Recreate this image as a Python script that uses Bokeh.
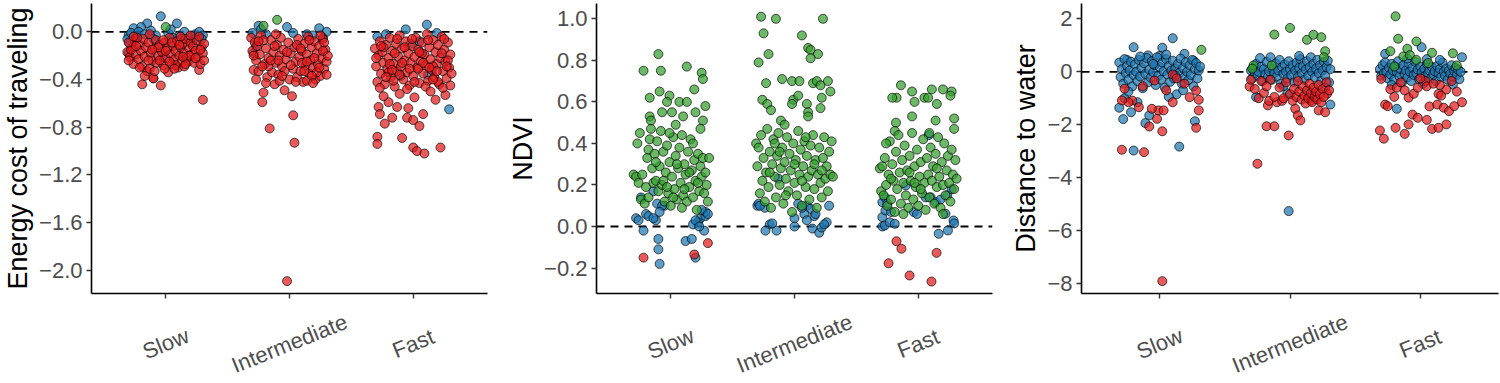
from bokeh.plotting import figure
from bokeh.layouts import row, column
from bokeh.models import Span, FixedTicker, CustomJSTickFormatter
from bokeh.core.properties import value
from bokeh.embed import file_html
from bokeh.resources import INLINE

categories = ["Slow", "Intermediate", "Fast"]

# each observation: (jitter offset within category, value)
# ---------------- Energy cost of traveling ----------------
energy_slow_blue = [(-0.04,0.13),(0.09,0.07),(-0.15,0.07),(-0.20,0.04),(-0.26,0.03),(-0.30,-0.03),(-0.31,-0.06),(-0.28,-0.01),(-0.22,0.00),(-0.17,-0.02),(-0.12,0.01),(-0.08,-0.03),(0.02,-0.01),(0.06,-0.05),(0.11,-0.03),(0.15,0.00),(0.20,-0.05),(0.24,-0.02),(0.27,0.00),(0.30,-0.03),(0.29,-0.06),(-0.29,-0.10),(-0.30,-0.18),(-0.02,-0.20),(0.13,-0.06),(0.22,-0.07),(-0.10,-0.06),(0.04,0.02),(-0.24,-0.05)]
energy_slow_green = [(0.00,0.04)]
energy_slow_red = [(-0.31,-0.17),(-0.29,-0.21),(-0.27,-0.13),(-0.26,-0.27),(-0.25,-0.08),(-0.24,-0.19),(-0.22,-0.23),(-0.21,-0.11),(-0.20,-0.16),(-0.19,-0.29),(-0.18,-0.06),(-0.17,-0.21),(-0.16,-0.13),(-0.15,-0.33),(-0.14,-0.09),(-0.13,-0.31),(-0.12,-0.18),(-0.11,-0.24),(-0.10,-0.39),(-0.09,-0.14),(-0.08,-0.07),(-0.07,-0.26),(-0.06,-0.20),(-0.05,-0.11),(-0.04,-0.45),(-0.03,-0.17),(-0.02,-0.28),(-0.01,-0.09),(0.00,-0.22),(0.01,-0.14),(0.02,-0.34),(0.03,-0.05),(0.04,-0.19),(0.05,-0.27),(0.06,-0.12),(0.07,-0.23),(0.08,-0.16),(0.09,-0.08),(0.10,-0.30),(0.11,-0.20),(0.12,-0.13),(0.13,-0.25),(0.14,-0.10),(0.15,-0.18),(0.16,-0.06),(0.17,-0.22),(0.18,-0.25),(0.19,-0.14),(0.20,-0.09),(0.21,-0.19),(0.22,-0.12),(0.23,-0.26),(0.24,-0.16),(0.25,-0.07),(0.26,-0.21),(0.27,-0.32),(0.28,-0.27),(0.29,-0.13),(0.30,-0.18),(0.31,-0.10),(0.30,-0.57),(-0.19,-0.44),(-0.10,-0.39),(-0.28,-0.15),(-0.23,-0.05),(0.12,-0.04),(-0.06,-0.13),(0.05,-0.09),(0.19,-0.20),(-0.14,-0.24),(0.27,-0.04),(-0.30,-0.09),(0.08,-0.28),(-0.01,-0.31),(0.15,-0.29),(-0.30,-0.24),(-0.26,-0.04),(-0.21,-0.30),(-0.17,-0.37),(-0.13,-0.02),(-0.09,-0.33),(-0.05,-0.24),(-0.02,-0.07),(0.03,-0.25),(0.07,-0.31),(0.11,-0.11),(0.16,-0.27),(0.20,-0.03),(0.24,-0.22),(0.28,-0.15),(0.31,-0.24),(-0.24,-0.12),(0.00,-0.16),(0.14,-0.21),(-0.11,-0.15)]
energy_mid_blue = [(-0.25,0.05),(-0.02,0.04),(0.24,0.03),(0.30,0.00),(0.14,-0.02),(0.03,-0.01),(-0.29,-0.18),(-0.30,-0.01),(-0.19,-0.02),(-0.27,-0.12),(0.27,-0.05),(-0.23,0.02),(0.19,-0.03)]
energy_mid_green = [(-0.10,0.10),(-0.21,0.05)]
energy_mid_red = [(-0.31,-0.05),(-0.30,-0.16),(-0.29,-0.32),(-0.28,-0.09),(-0.27,-0.24),(-0.26,-0.12),(-0.25,-0.33),(-0.24,-0.19),(-0.23,-0.03),(-0.22,-0.59),(-0.21,-0.51),(-0.20,-0.27),(-0.19,-0.14),(-0.18,-0.38),(-0.17,-0.22),(-0.16,-0.81),(-0.15,-0.07),(-0.14,-0.34),(-0.13,-0.17),(-0.12,-0.44),(-0.11,-0.26),(-0.10,-0.11),(-0.09,-0.36),(-0.08,-0.20),(-0.07,-0.05),(-0.06,-0.29),(-0.05,-0.15),(-0.04,-0.49),(-0.03,-0.23),(-0.02,-2.09),(-0.01,-0.09),(0.00,-0.40),(0.01,-0.18),(0.02,-0.54),(0.03,-0.31),(0.03,-0.70),(0.04,-0.93),(0.04,-0.13),(0.05,-0.25),(0.06,-0.38),(0.07,-0.06),(0.08,-0.21),(0.09,-0.33),(0.10,-0.16),(0.11,-0.42),(0.12,-0.10),(0.13,-0.28),(0.14,-0.19),(0.15,-0.04),(0.16,-0.35),(0.17,-0.24),(0.18,-0.13),(0.19,-0.30),(0.20,-0.08),(0.21,-0.40),(0.22,-0.18),(0.23,-0.27),(0.24,-0.12),(0.25,-0.37),(0.26,-0.22),(0.27,-0.06),(0.28,-0.31),(0.29,-0.15),(0.30,-0.25),(0.31,-0.20),(-0.27,-0.40),(-0.21,-0.07),(-0.11,-0.02),(-0.04,-0.33),(0.06,-0.11),(0.14,-0.41),(0.22,-0.34),(0.28,-0.09),(-0.17,-0.29),(-0.08,-0.41),(0.10,-0.26),(0.18,-0.37),(0.25,-0.03),(-0.29,-0.20),(-0.25,-0.08),(-0.22,-0.29),(-0.19,-0.43),(-0.15,-0.24),(-0.12,-0.12),(-0.06,-0.37),(-0.02,-0.17),(0.01,-0.28),(0.05,-0.42),(0.09,-0.14),(0.12,-0.33),(0.16,-0.07),(0.20,-0.22),(0.24,-0.30),(0.27,-0.16),(0.30,-0.36),(-0.09,-0.24),(0.14,-0.25),(0.19,-0.43)]
energy_fast_blue = [(-0.06,0.02),(0.11,0.06),(0.19,-0.01),(-0.29,-0.04),(-0.02,-0.10),(-0.10,-0.37),(0.12,-0.36),(0.29,-0.65),(0.05,-0.08),(-0.22,-0.02)]
energy_fast_red = [(-0.31,-0.14),(-0.30,-0.29),(-0.29,-0.42),(-0.28,-0.20),(-0.27,-0.08),(-0.26,-0.35),(-0.25,-0.17),(-0.24,-0.26),(-0.23,-0.44),(-0.22,-0.11),(-0.21,-0.31),(-0.20,-0.22),(-0.19,-0.05),(-0.18,-0.38),(-0.17,-0.16),(-0.16,-0.27),(-0.15,-0.46),(-0.14,-0.10),(-0.13,-0.33),(-0.12,-0.21),(-0.11,-0.03),(-0.10,-0.29),(-0.09,-0.14),(-0.08,-0.40),(-0.07,-0.24),(-0.06,-0.08),(-0.05,-0.34),(-0.04,-0.18),(-0.03,-0.45),(-0.02,-0.26),(-0.01,-0.12),(0.00,-0.37),(0.01,-0.21),(0.02,-0.05),(0.03,-0.30),(0.04,-0.15),(0.05,-0.43),(0.06,-0.25),(0.07,-0.09),(0.08,-0.35),(0.09,-0.19),(0.10,-0.28),(0.11,-0.02),(0.12,-0.41),(0.13,-0.13),(0.14,-0.23),(0.15,-0.32),(0.16,-0.07),(0.17,-0.38),(0.18,-0.17),(0.19,-0.27),(0.20,-0.11),(0.21,-0.44),(0.22,-0.22),(0.23,-0.04),(0.24,-0.33),(0.25,-0.15),(0.26,-0.25),(0.27,-0.39),(0.28,-0.09),(0.29,-0.30),(0.30,-0.19),(0.31,-0.35),(-0.27,-0.47),(-0.16,-0.41),(-0.05,-0.48),(0.10,-0.46),(0.20,-0.42),(0.28,-0.24),(-0.20,-0.34),(-0.09,-0.26),(0.04,-0.31),(0.16,-0.29),(-0.24,-0.13),(0.25,-0.06),(0.07,-0.18),(-0.13,-0.06),(-0.28,-0.63),(-0.27,-0.69),(-0.20,-0.59),(-0.13,-0.63),(-0.04,-0.64),(-0.23,-0.77),(-0.17,-0.72),(-0.05,-0.72),(0.00,-0.74),(0.05,-0.79),(0.08,-0.69),(-0.29,-0.88),(-0.29,-0.94),(-0.09,-0.89),(0.00,-0.97),(0.03,-1.00),(0.09,-1.02),(0.22,-0.97),(0.26,-0.53),(0.18,-0.57),(0.14,-0.50),(0.01,-0.55),(0.24,-0.47),(-0.11,-0.52),(-0.24,-0.54),(-0.30,-0.22),(-0.26,-0.12),(-0.22,-0.38),(-0.19,-0.27),(-0.15,-0.18),(-0.11,-0.36),(-0.07,-0.13),(-0.03,-0.31),(0.01,-0.42),(0.05,-0.17),(0.08,-0.26),(0.12,-0.07),(0.16,-0.40),(0.19,-0.33),(0.23,-0.18),(0.27,-0.29),(0.30,-0.45),(-0.01,-0.06),(0.13,-0.30),(-0.17,-0.32)]

# ---------------- NDVI ----------------
ndvi_slow_blue = [(-0.24,0.14),(-0.14,0.17),(-0.11,0.11),(-0.05,0.10),(-0.07,0.10),(-0.20,0.06),(-0.28,0.04),(-0.26,0.03),(-0.22,-0.02),(-0.18,0.05),(-0.12,0.03),(-0.09,0.07),(-0.10,-0.06),(-0.10,-0.11),(-0.09,-0.18),(0.12,-0.07),(0.17,-0.06),(0.20,-0.15),(0.24,0.04),(0.28,0.05),(0.28,0.07),(0.27,-0.02),(0.22,0.02),(0.18,0.01),(0.20,0.03),(0.25,0.08),(0.30,0.06),(0.23,0.00),(-0.14,0.04)]
ndvi_slow_green = [(-0.10,0.83),(-0.22,0.75),(-0.08,0.75),(0.13,0.77),(0.25,0.74),(0.26,0.71),(-0.17,0.62),(-0.09,0.65),(-0.01,0.63),(-0.03,0.60),(0.07,0.60),(0.13,0.60),(0.28,0.58),(-0.07,0.55),(0.01,0.55),(-0.17,0.53),(-0.16,0.51),(0.26,0.51),(-0.25,0.45),(-0.27,0.40),(0.19,0.66),(0.20,0.55),(0.24,0.47),(0.10,0.53),(0.04,0.49),(-0.30,0.25),(-0.28,0.24),(-0.26,0.21),(-0.24,0.13),(-0.23,0.25),(-0.21,0.11),(-0.20,0.19),(-0.19,0.33),(-0.18,0.37),(-0.17,0.42),(-0.16,0.47),(-0.15,0.28),(-0.14,0.21),(-0.13,0.35),(-0.12,0.22),(-0.11,0.41),(-0.10,0.17),(-0.09,0.29),(-0.08,0.46),(-0.07,0.20),(-0.06,0.36),(-0.05,0.12),(-0.04,0.26),(-0.03,0.39),(-0.02,0.16),(-0.01,0.31),(0.00,0.10),(0.01,0.24),(0.02,0.43),(0.03,0.18),(0.04,0.34),(0.05,0.13),(0.06,0.28),(0.07,0.38),(0.08,0.21),(0.09,0.44),(0.10,0.15),(0.11,0.30),(0.12,0.25),(0.13,0.12),(0.14,0.36),(0.15,0.19),(0.16,0.42),(0.17,0.27),(0.18,0.14),(0.19,0.32),(0.20,0.22),(0.21,0.08),(0.22,0.35),(0.23,0.17),(0.24,0.29),(0.25,0.24),(0.26,0.33),(0.27,0.16),(0.28,0.26),(0.29,0.20),(0.30,0.12),(0.31,0.33),(-0.06,0.22),(0.05,0.30),(0.11,0.18),(-0.12,0.31),(0.15,0.26),(0.02,0.14),(-0.03,0.19),(0.18,0.40),(0.09,0.09),(-0.01,0.45),(0.22,0.21),(-0.18,0.14)]
ndvi_slow_red = [(-0.22,-0.15),(0.19,-0.135),(0.30,-0.08)]
ndvi_mid_blue = [(-0.13,0.23),(-0.30,0.10),(-0.29,0.11),(-0.24,0.09),(-0.28,0.10),(0.03,0.11),(0.10,0.10),(0.13,0.085),(0.08,0.06),(0.16,0.05),(0.28,0.10),(-0.20,0.01),(-0.235,-0.02),(-0.145,-0.02),(-0.18,0.015),(0.00,0.04),(0.00,0.00),(0.10,0.03),(0.145,-0.01),(0.20,-0.03),(0.22,-0.005),(0.26,0.02),(0.24,0.01),(0.06,0.09),(0.17,0.06)]
ndvi_mid_green = [(-0.27,1.01),(-0.15,1.00),(0.23,1.00),(-0.25,0.93),(0.06,0.92),(0.11,0.86),(0.13,0.85),(0.19,0.83),(-0.21,0.83),(0.13,0.81),(-0.29,0.79),(-0.23,0.69),(-0.10,0.71),(-0.02,0.70),(0.04,0.70),(0.15,0.69),(0.18,0.70),(0.21,0.68),(0.27,0.70),(0.29,0.65),(0.22,0.62),(0.21,0.57),(0.10,0.59),(0.11,0.55),(0.11,0.53),(-0.26,0.61),(-0.22,0.59),(-0.19,0.56),(-0.11,0.51),(-0.08,0.49),(-0.01,0.61),(-0.02,0.59),(0.03,0.63),(-0.31,0.40),(-0.30,0.29),(-0.29,0.38),(-0.28,0.16),(-0.27,0.44),(-0.26,0.22),(-0.25,0.33),(-0.24,0.12),(-0.23,0.26),(-0.22,0.47),(-0.21,0.19),(-0.20,0.36),(-0.19,0.09),(-0.18,0.30),(-0.17,0.42),(-0.16,0.24),(-0.15,0.14),(-0.14,0.34),(-0.13,0.45),(-0.12,0.20),(-0.11,0.28),(-0.10,0.38),(-0.09,0.11),(-0.08,0.31),(-0.07,0.23),(-0.06,0.43),(-0.05,0.17),(-0.04,0.35),(-0.03,0.27),(-0.02,0.07),(-0.01,0.40),(0.00,0.21),(0.01,0.32),(0.02,0.15),(0.03,0.46),(0.04,0.25),(0.05,0.37),(0.06,0.10),(0.07,0.29),(0.08,0.41),(0.09,0.19),(0.10,0.34),(0.11,0.24),(0.12,0.13),(0.13,0.39),(0.14,0.27),(0.15,0.44),(0.16,0.18),(0.17,0.32),(0.18,0.09),(0.19,0.25),(0.20,0.38),(0.21,0.21),(0.22,0.14),(0.23,0.33),(0.24,0.43),(0.25,0.23),(0.26,0.29),(0.27,0.17),(0.28,0.36),(0.29,0.25),(0.30,0.41),(0.31,0.24),(-0.12,0.36),(0.06,0.22),(0.16,0.30),(-0.20,0.26),(0.00,0.30),(0.22,0.27),(-0.07,0.15),(0.09,0.43),(-0.16,0.40)]
ndvi_fast_blue = [(-0.29,0.045),(-0.29,0.00),(-0.27,0.005),(-0.265,0.077),(-0.23,0.02),(-0.19,0.013),(-0.29,0.117),(-0.27,0.14),(-0.10,0.198),(-0.035,0.069),(-0.01,0.06),(0.10,0.141),(0.14,0.117),(0.18,0.13),(0.235,0.15),(0.22,0.061),(0.285,0.029),(0.29,0.015),(0.24,-0.019),(0.165,-0.035),(0.085,0.44),(0.27,0.18),(0.06,0.14),(-0.22,0.07),(-0.25,0.11)]
ndvi_fast_green = [(-0.14,0.68),(-0.175,0.62),(-0.05,0.65),(-0.03,0.60),(0.11,0.66),(0.05,0.62),(0.20,0.66),(0.27,0.65),(0.26,0.63),(0.15,0.59),(0.08,0.62),(-0.21,0.62),(-0.05,0.53),(0.14,0.51),(0.29,0.52),(0.29,0.47),(-0.18,0.50),(-0.19,0.46),(-0.31,0.28),(-0.30,0.17),(-0.29,0.29),(-0.28,0.15),(-0.27,0.33),(-0.26,0.20),(-0.25,0.10),(-0.24,0.25),(-0.23,0.41),(-0.22,0.13),(-0.21,0.30),(-0.20,0.22),(-0.19,0.07),(-0.18,0.36),(-0.17,0.18),(-0.16,0.44),(-0.15,0.26),(-0.14,0.11),(-0.13,0.32),(-0.12,0.21),(-0.11,0.39),(-0.10,0.15),(-0.09,0.27),(-0.08,0.09),(-0.07,0.34),(-0.06,0.22),(-0.05,0.45),(-0.04,0.13),(-0.03,0.29),(-0.02,0.19),(-0.01,0.37),(0.00,0.10),(0.01,0.24),(0.02,0.31),(0.03,0.16),(0.04,0.42),(0.05,0.21),(0.06,0.08),(0.07,0.33),(0.08,0.25),(0.09,0.14),(0.10,0.38),(0.11,0.22),(0.12,0.29),(0.13,0.11),(0.14,0.35),(0.15,0.19),(0.16,0.43),(0.17,0.24),(0.18,0.09),(0.19,0.31),(0.20,0.20),(0.21,0.40),(0.22,0.15),(0.23,0.27),(0.24,0.34),(0.25,0.21),(0.26,0.12),(0.27,0.37),(0.28,0.25),(0.29,0.18),(0.30,0.32),(0.31,0.23),(-0.22,0.23),(-0.12,0.06),(0.02,0.18),(0.15,0.28),(-0.07,0.26),(0.09,0.45),(-0.26,0.40),(0.20,0.06),(-0.03,0.21)]
ndvi_fast_red = [(-0.176,-0.071),(-0.136,-0.107),(-0.24,-0.177),(-0.07,-0.236),(0.107,-0.265),(0.148,-0.127)]

# ---------------- Distance to water ----------------
water_slow_blue = [(0.10,1.27),(0.02,0.91),(-0.20,0.93),(0.19,0.68),(-0.09,0.62),(0.00,0.60),(-0.25,0.45),(0.26,0.42),(-0.31,-1.36),(-0.22,-1.53),(-0.17,-1.15),(-0.28,-1.79),(-0.08,-1.65),(-0.11,-1.94),(0.27,-1.87),(0.15,-2.83),(-0.20,-2.98),(-0.31,0.35),(-0.30,-0.20),(-0.29,0.10),(-0.28,-0.45),(-0.27,0.48),(-0.26,-0.05),(-0.25,0.22),(-0.24,-0.30),(-0.23,0.05),(-0.22,0.38),(-0.21,-0.55),(-0.20,-0.12),(-0.19,0.28),(-0.18,0.00),(-0.17,-0.35),(-0.16,0.45),(-0.15,-0.18),(-0.14,0.15),(-0.13,-0.62),(-0.12,0.32),(-0.11,-0.08),(-0.10,0.52),(-0.09,-0.40),(-0.08,0.08),(-0.07,-0.22),(-0.06,0.40),(-0.05,-0.02),(-0.04,0.25),(-0.03,-0.50),(-0.02,0.55),(-0.01,-0.15),(0.00,0.18),(0.01,-0.30),(0.02,0.35),(0.03,0.02),(0.04,-0.60),(0.05,0.48),(0.06,-0.10),(0.07,0.22),(0.08,-0.38),(0.09,0.05),(0.10,0.42),(0.11,-0.25),(0.12,0.12),(0.13,-0.85),(0.14,0.30),(0.15,-0.05),(0.16,0.50),(0.17,-0.45),(0.18,0.15),(0.19,-0.20),(0.20,0.36),(0.21,0.00),(0.22,-0.32),(0.23,0.25),(0.24,-0.12),(0.25,0.45),(0.26,-0.55),(0.27,0.10),(0.28,0.33),(0.29,-0.25),(0.30,0.05),(0.31,0.20),(-0.27,-1.00),(-0.24,-0.75),(0.07,-0.95),(0.18,-0.70),(-0.05,0.30),(0.12,-0.15),(-0.15,0.58),(0.05,0.65)]
water_slow_green = [(0.32,0.83)]
water_slow_red = [(-0.29,-2.95),(-0.12,-3.04),(0.02,-7.92),(0.02,-2.25),(-0.08,-2.07),(-0.02,-1.78),(-0.01,-1.46),(0.03,-1.46),(0.10,-1.15),(0.23,-0.96),(0.28,-2.12),(0.30,-1.46),(0.30,-1.06),(0.28,-0.71),(-0.27,-0.64),(-0.21,-1.09),(-0.24,-1.15),(-0.16,-1.34),(-0.29,-1.08),(-0.04,-0.33),(0.10,-0.10),(0.19,-0.45),(-0.13,-0.55),(0.05,-0.70),(-0.06,-1.40),(0.13,-0.25)]
water_mid_blue = [(-0.01,-5.27),(-0.26,-0.96),(0.31,-1.24),(-0.02,-0.81),(-0.30,0.05),(-0.29,-0.25),(-0.28,0.15),(-0.27,-0.05),(-0.26,0.30),(-0.25,-0.15),(-0.24,0.00),(-0.22,0.20),(-0.21,-0.35),(-0.20,0.10),(-0.19,-0.10),(-0.18,0.38),(-0.17,-0.20),(-0.16,0.02),(-0.15,0.55),(-0.14,-0.30),(-0.13,0.12),(-0.12,-0.05),(-0.11,0.32),(-0.10,-0.18),(-0.09,0.05),(-0.08,0.45),(-0.07,-0.45),(-0.06,0.18),(-0.05,-0.08),(-0.04,0.28),(-0.03,0.00),(-0.02,-0.25),(-0.01,0.40),(0.00,0.10),(0.01,-0.12),(0.02,0.25),(0.03,-0.40),(0.04,0.05),(0.05,0.35),(0.06,-0.20),(0.07,0.15),(0.08,0.48),(0.09,-0.05),(0.10,0.22),(0.11,-0.30),(0.12,0.08),(0.13,0.40),(0.14,-0.15),(0.15,0.18),(0.16,0.55),(0.17,0.00),(0.18,0.30),(0.19,-0.22),(0.20,0.12),(0.21,0.45),(0.22,-0.05),(0.23,0.25),(0.24,-0.35),(0.25,0.05),(0.26,0.38),(0.27,-0.15),(0.28,0.18),(0.29,0.42),(0.30,-0.40),(0.31,0.10),(-0.23,0.52),(0.07,0.60),(-0.05,-0.55),(0.15,-0.85),(0.27,-0.60)]
water_mid_green = [(-0.12,1.41),(0.00,1.66),(0.13,1.21),(0.18,1.40),(0.24,1.31),(0.27,0.78),(0.26,0.55),(-0.28,0.24),(-0.14,0.24),(-0.29,0.12)]
water_mid_red = [(-0.25,-3.48),(-0.01,-2.41),(-0.18,-2.06),(-0.12,-2.06),(-0.31,-0.56),(-0.24,-1.00),(-0.17,-1.27),(-0.16,-1.10),(-0.10,-1.15),(-0.06,-1.10),(0.04,-1.40),(0.06,-1.65),(0.08,-1.84),(0.22,-1.46),(0.27,-1.53),(0.16,-1.10),(0.20,-1.00),(0.285,-0.83),(-0.30,-0.30),(-0.27,-0.65),(-0.22,-0.35),(-0.20,-0.80),(-0.15,-0.30),(-0.12,-0.95),(-0.08,-0.60),(-0.05,-1.00),(-0.03,-0.40),(0.00,-0.85),(0.02,-1.10),(0.03,-0.65),(0.05,-0.95),(0.07,-0.75),(0.09,-1.05),(0.10,-0.55),(0.11,-0.90),(0.12,-1.20),(0.13,-0.70),(0.14,-1.00),(0.15,-0.45),(0.16,-0.80),(0.17,-1.15),(0.18,-0.60),(0.19,-0.95),(0.20,-0.75),(0.21,-1.05),(0.22,-0.50),(0.23,-0.85),(0.24,-1.15),(0.25,-0.65),(0.26,-0.95),(0.28,-0.40),(0.30,-0.70),(-0.18,-0.55),(0.06,-0.35)]
water_fast_blue = [(0.01,0.93),(0.32,0.55),(-0.27,0.68),(-0.18,-1.40),(-0.31,0.10),(-0.30,-0.15),(-0.29,0.25),(-0.28,-0.05),(-0.27,0.35),(-0.26,0.00),(-0.25,-0.25),(-0.24,0.15),(-0.23,-0.10),(-0.22,0.30),(-0.21,0.05),(-0.20,-0.30),(-0.19,0.20),(-0.18,-0.02),(-0.17,0.40),(-0.16,-0.18),(-0.15,0.10),(-0.14,-0.40),(-0.13,0.25),(-0.12,-0.08),(-0.11,0.05),(-0.10,-0.22),(-0.09,0.32),(-0.08,0.00),(-0.07,-0.35),(-0.06,0.15),(-0.05,-0.12),(-0.04,0.38),(-0.03,-0.05),(-0.02,0.08),(-0.01,-0.28),(0.00,0.20),(0.01,-0.02),(0.02,-0.45),(0.03,0.12),(0.04,-0.15),(0.05,0.30),(0.06,-0.05),(0.07,0.05),(0.08,-0.25),(0.09,0.18),(0.10,-0.10),(0.11,0.02),(0.12,-0.35),(0.13,0.22),(0.14,-0.05),(0.15,0.10),(0.16,-0.20),(0.17,0.35),(0.18,0.00),(0.19,-0.15),(0.20,0.12),(0.21,-0.30),(0.22,0.05),(0.23,-0.08),(0.24,0.25),(0.25,-0.20),(0.26,0.02),(0.27,0.15),(0.28,-0.12),(0.29,0.08),(0.30,-0.28),(0.31,0.00),(0.05,0.48),(0.15,0.45),(-0.10,0.50),(-0.22,-0.50),(0.25,-0.48)]
water_fast_green = [(-0.19,2.10),(-0.17,1.25),(-0.03,1.15),(-0.10,0.87),(0.09,0.72),(-0.23,0.78),(-0.13,0.58),(-0.08,0.63),(-0.03,0.45),(0.06,0.33),(0.25,0.70),(0.28,0.24),(-0.20,0.20)]
water_fast_red = [(-0.31,-2.22),(-0.28,-2.53),(-0.19,-2.12),(-0.12,-2.35),(-0.09,-1.99),(-0.06,-1.62),(-0.02,-1.74),(0.05,-1.82),(0.09,-2.16),(0.14,-2.12),(0.20,-1.99),(0.07,-1.31),(0.13,-1.24),(0.18,-1.36),(0.22,-1.49),(0.32,-1.15),(0.26,-1.30),(-0.27,-1.24),(-0.25,-1.30),(-0.30,-0.27),(-0.23,-0.66),(-0.18,-0.60),(-0.09,-0.98),(-0.05,-0.83),(0.04,-0.35),(0.05,-0.55),(0.14,-0.84),(0.16,-0.90),(0.20,-0.67),(0.15,-0.50),(-0.15,-0.40),(-0.12,-0.70),(0.00,-0.25),(0.10,-0.45),(0.24,-0.35),(-0.20,-0.95),(0.28,-0.75),(-0.02,-0.60)]

energy_ticks = [0.0, -0.4, -0.8, -1.2, -1.6, -2.0]
ndvi_ticks = [-0.2, 0.0, 0.2, 0.4, 0.6, 0.8, 1.0]
water_ticks = [2, 0, -2, -4, -6, -8]

COLORS = {"blue": "#1F78B4", "green": "#33A02C", "red": "#E31A1C"}
FONT = "Liberation Sans"
TOP_PAD = 3
FRAME_H = 290
BOTTOM_PAD = 8
LABEL_STRIP_H = 383 - (TOP_PAD + FRAME_H + BOTTOM_PAD)
LABEL_CENTER_FROM_TOP = 42


def make_panel(label, layers, y_range, ticks, digits, bl, fw, br, xmax):
    p = figure(frame_width=fw, frame_height=FRAME_H, x_range=(0.4, xmax), y_range=y_range,
               output_backend="svg", toolbar_location=None,
               min_border_left=bl, min_border_right=br, min_border_top=TOP_PAD,
               min_border_bottom=BOTTOM_PAD)
    p.outline_line_color = None
    p.xgrid.visible = False
    p.ygrid.visible = False
    p.background_fill_color = "white"
    p.add_layout(Span(location=0, dimension="width", line_color="black",
                      line_dash="8 6", line_width=1.8, level="underlay"))
    for color, groups in layers:
        xs, ys = [], []
        for gi, obs in enumerate(groups):
            for jit, val in obs:
                xs.append(gi + 1 + jit)
                ys.append(val)
        p.scatter(xs, ys, size=9, fill_color=COLORS[color], fill_alpha=0.72,
                  line_color="black", line_alpha=0.75, line_width=0.9)
    p.xaxis.ticker = FixedTicker(ticks=[1, 2, 3])
    p.xaxis.major_label_text_font_size = "1px"
    p.xaxis.major_label_text_color = None
    p.xaxis.major_label_standoff = 0
    p.yaxis.ticker = FixedTicker(ticks=ticks)
    p.yaxis.formatter = CustomJSTickFormatter(
        code="return (tick < 0 ? '\\u2212' : '') + Math.abs(tick).toFixed(%d);" % digits)
    for ax in (p.xaxis[0], p.yaxis[0]):
        ax.axis_line_color = "black"
        ax.axis_line_width = 1.6
        ax.major_tick_line_color = "#333333"
        ax.major_tick_line_width = 1.4
        ax.major_tick_in = 0
        ax.major_tick_out = 5
        ax.minor_tick_line_color = None
    p.yaxis.major_label_text_font = FONT
    p.yaxis.major_label_text_font_size = "22px"
    p.yaxis.major_label_text_color = "#4D4D4D"
    p.yaxis.major_label_standoff = 4
    p.yaxis.axis_label = label
    p.yaxis.axis_label_text_font = FONT
    p.yaxis.axis_label_text_font_size = "27px"
    p.yaxis.axis_label_text_font_style = "normal"
    p.yaxis.axis_label_text_color = "black"
    p.yaxis.axis_label_standoff = 3

    # strip below the panel holding the rotated category labels, sharing the x scale
    s = figure(frame_width=fw, frame_height=LABEL_STRIP_H, x_range=p.x_range,
               y_range=(0, LABEL_STRIP_H), output_backend="svg", toolbar_location=None,
               min_border_left=bl, min_border_right=br, min_border_top=0, min_border_bottom=0,
               x_axis_location=None, y_axis_location=None)
    s.outline_line_color = None
    s.grid.visible = False
    s.text(x=[1, 2, 3], y=[LABEL_STRIP_H - LABEL_CENTER_FROM_TOP] * 3, text=categories,
           angle=0.384, text_align="center", text_baseline="middle",
           text_font=value(FONT), text_font_size=value("22px"), text_color="#4D4D4D")
    return column(p, s, spacing=0)


p1 = make_panel("Energy cost of traveling",
                [("blue", [energy_slow_blue, energy_mid_blue, energy_fast_blue]),
                 ("green", [energy_slow_green, energy_mid_green, []]),
                 ("red", [energy_slow_red, energy_mid_red, energy_fast_red])],
                (-2.1936, 0.2372), energy_ticks, 1, 91, 396, 13, 3.6)
p2 = make_panel("NDVI",
                [("blue", [ndvi_slow_blue, ndvi_mid_blue, ndvi_fast_blue]),
                 ("green", [ndvi_slow_green, ndvi_mid_green, ndvi_fast_green]),
                 ("red", [ndvi_slow_red, [], ndvi_fast_red])],
                (-0.3226, 1.0737), ndvi_ticks, 1, 96, 396, 8, 3.6)
p3 = make_panel("Distance to water",
                [("blue", [water_slow_blue, water_mid_blue, water_fast_blue]),
                 ("red", [water_slow_red, water_mid_red, water_fast_red]),
                 ("green", [water_slow_green, water_mid_green, water_fast_green])],
                (-8.388, 2.584), water_ticks, 0, 81, 417, 2, 3.6)

layout = row(p1, p2, p3, spacing=0)
open("out.html", "w").write(file_html(layout, INLINE))
